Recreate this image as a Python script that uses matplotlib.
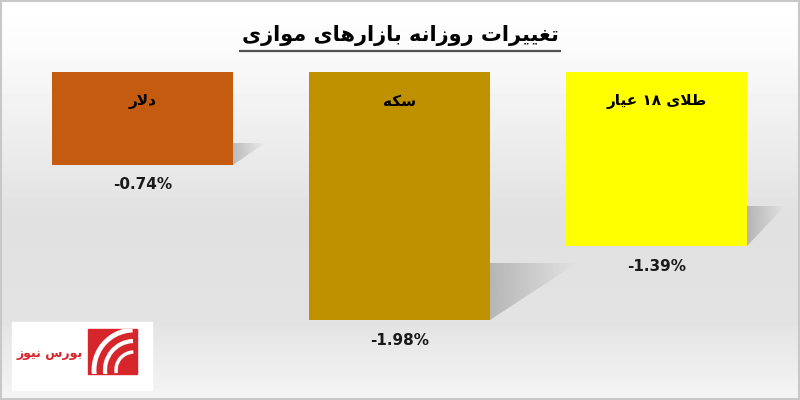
import re
import numpy as np
import matplotlib
matplotlib.use('Agg')
import matplotlib.pyplot as plt
from matplotlib.patches import Rectangle, Polygon, Arc

# data
categories = ['دلار', 'سکه', 'طلای ۱۸ عیار']
changes = [-0.74, -1.98, -1.39]
bar_colors = ['#C55A11', '#BF9000', '#FFFF00']
title = 'تغییرات روزانه بازارهای موازی'
brand = 'بورس نیوز'

# matplotlib has no arabic shaping, so pick the presentation forms by hand
# (isolated, final, initial, medial)
FORMS = {
    'ا': (0xFE8D, 0xFE8E, None, None),
    'ب': (0xFE8F, 0xFE90, 0xFE91, 0xFE92),
    'ت': (0xFE95, 0xFE96, 0xFE97, 0xFE98),
    'د': (0xFEA9, 0xFEAA, None, None),
    'ر': (0xFEAD, 0xFEAE, None, None),
    'ز': (0xFEAF, 0xFEB0, None, None),
    'س': (0xFEB1, 0xFEB2, 0xFEB3, 0xFEB4),
    'ط': (0xFEC1, 0xFEC2, 0xFEC3, 0xFEC4),
    'ع': (0xFEC9, 0xFECA, 0xFECB, 0xFECC),
    'غ': (0xFECD, 0xFECE, 0xFECF, 0xFED0),
    'ک': (0xFB8E, 0xFB8F, 0xFB90, 0xFB91),
    'ل': (0xFEDD, 0xFEDE, 0xFEDF, 0xFEE0),
    'م': (0xFEE1, 0xFEE2, 0xFEE3, 0xFEE4),
    'ن': (0xFEE5, 0xFEE6, 0xFEE7, 0xFEE8),
    'ه': (0xFEE9, 0xFEEA, 0xFEEB, 0xFEEC),
    'و': (0xFEED, 0xFEEE, None, None),
    'ی': (0xFBFC, 0xFBFD, 0xFBFE, 0xFBFF),
}


def dual(c):
    return c in FORMS and FORMS[c][2] is not None


def shape(text):
    out = []
    i = 0
    n = len(text)
    while i < n:
        c = text[i]
        prev_join = i > 0 and dual(text[i-1])
        if c == 'ل' and i+1 < n and text[i+1] == 'ا':
            out.append('\uFEFC' if prev_join else '\uFEFB')
            i += 2
            continue
        if c in FORMS:
            f = FORMS[c]
            next_join = dual(c) and i+1 < n and text[i+1] in FORMS
            if prev_join and next_join:
                g = f[3]
            elif prev_join:
                g = f[1]
            elif next_join:
                g = f[2]
            else:
                g = f[0]
            out.append(chr(g))
        else:
            out.append(c)
        i += 1
    s = ''.join(reversed(out))
    # numbers stay left to right
    return re.sub('[0-9۰-۹]+', lambda m: m.group(0)[::-1], s)


plt.rcParams['font.family'] = ['DejaVu Sans']

W, H = 800, 400
fig = plt.figure(figsize=(8, 4), dpi=100)

# background, title, logo in pixel coords
bg = fig.add_axes([0, 0, 1, 1])
bg.set_xlim(0, W)
bg.set_ylim(H, 0)
bg.axis('off')
rows = np.arange(H) / H
shade = np.interp(rows, [0, 0.12, 0.55, 0.8, 1.0], [1.0, 0.985, 0.88, 0.89, 0.96])
grad = np.repeat(shade[:, None], 2, axis=1)
bg.imshow(grad, cmap='gray', vmin=0, vmax=1, extent=[0, W, H, 0], aspect='auto')
bg.add_patch(Rectangle((0.5, 0.5), W-1.5, H-1.5, fill=False, ec='#c8c8c8', lw=1.5))

t = bg.text(400, 36, shape(title), ha='center', va='center', fontsize=15,
            fontweight='bold', color='black')
fig.canvas.draw()
bb = t.get_window_extent().transformed(bg.transData.inverted())
bg.plot([bb.x0 - 3, bb.x1 + 3], [51, 51], color='#555555', lw=1.6,
        solid_capstyle='butt')

# logo
bg.add_patch(Rectangle((12, 322), 140, 68, color='white'))
sq = Rectangle((88, 329), 49, 45, color='#d7262b')
bg.add_patch(sq)
for r, lw in [(40, 3.5), (29, 3), (18, 2.5)]:
    arc = Arc((134, 370), 2*r, 2*r, theta1=170, theta2=268, color='white', lw=lw)
    bg.add_patch(arc)
    arc.set_clip_path(sq)
bg.text(50, 354, shape(brand), ha='center', va='center', fontsize=9,
        fontweight='bold', color='#d7262b')

# bars
ax = fig.add_axes([0, 0, 1, 1])
ax.patch.set_alpha(0)
ax.axis('off')
xmin, xmax = -142.5/257, (W-142.5)/257
ymin, ymax = -328/125.3, 72/125.3
ax.set_xlim(xmin, xmax)
ax.set_ylim(ymin, ymax)
px_x = W / (xmax - xmin)
px_y = H / (ymax - ymin)

x = np.arange(len(categories))
width = 0.704
ax.bar(x, changes, width=width, color=bar_colors, zorder=3)

# soft shadow on the right of each bar
shadow_alpha = np.linspace(0.4, 0.0, 50)[None, :]
for xi, v in zip(x, changes):
    h = -v
    right = xi + width/2
    sw = min(0.35*h*px_y, 785 - (right - xmin)*px_x) / px_x
    sh = 0.23*h
    tri = Polygon([(right, v), (right, v+sh), (right+sw, v+sh)], closed=True,
                  fc='none', ec='none')
    ax.add_patch(tri)
    im = ax.imshow(np.full((1, 50), 0.45), cmap='gray', vmin=0, vmax=1,
                   alpha=shadow_alpha, extent=[right, right+sw, v, v+sh],
                   aspect='auto', zorder=2)
    im.set_clip_path(tri)

for xi, v, name in zip(x, changes, categories):
    ax.annotate(shape(name), (xi, 0), xytext=(0, -21), textcoords='offset points',
                ha='center', va='center', fontsize=11, fontweight='bold', zorder=4)
    ax.annotate('%.2f%%' % v, (xi, v), xytext=(0, -14.5), textcoords='offset points',
                ha='center', va='center', fontsize=11, fontweight='bold',
                color='#1a1a1a', zorder=4)

ax.set_xlim(xmin, xmax)
ax.set_ylim(ymin, ymax)
fig.savefig('out.png', dpi=100)
